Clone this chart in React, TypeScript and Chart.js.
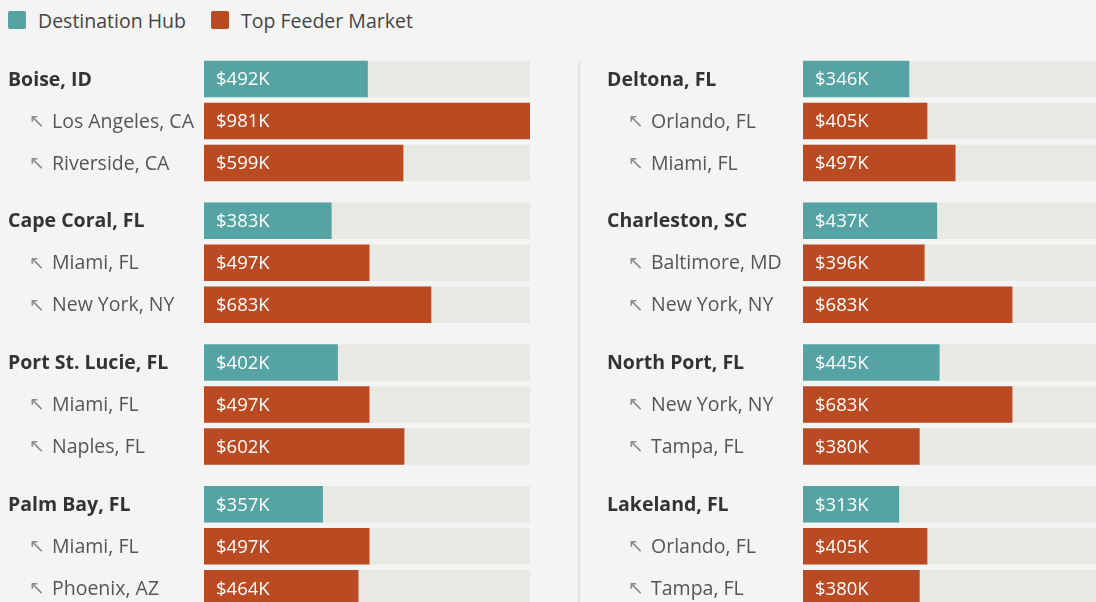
import React, { useEffect, useRef } from "react";
import { Chart, registerables } from "chart.js";
Chart.register(...registerables);

const leftHubs = ["Boise, ID", "Cape Coral, FL", "Port St. Lucie, FL", "Palm Bay, FL"];
const leftHubValues = [492, 383, 402, 357];
const leftFeeders = [
  ["Los Angeles, CA", "Riverside, CA"],
  ["Miami, FL", "New York, NY"],
  ["Miami, FL", "Naples, FL"],
  ["Miami, FL", "Phoenix, AZ"],
];
const leftFeederValues = [
  [981, 599],
  [497, 683],
  [497, 602],
  [497, 464],
];

const rightHubs = ["Deltona, FL", "Charleston, SC", "North Port, FL", "Lakeland, FL"];
const rightHubValues = [346, 437, 445, 313];
const rightFeeders = [
  ["Orlando, FL", "Miami, FL"],
  ["Baltimore, MD", "New York, NY"],
  ["New York, NY", "Tampa, FL"],
  ["Orlando, FL", "Tampa, FL"],
];
const rightFeederValues = [
  [405, 497],
  [396, 683],
  [683, 380],
  [405, 380],
];

const legendLabels = ["Destination Hub", "Top Feeder Market"];

const TEAL = "#56A3A4";
const ORANGE = "#BA4A22";
const TRACK = "#E9E9E4";
const BG = "#F4F4F4";
const FONT = "'Open Sans', 'Noto Sans', sans-serif";

const GROUP_STEP = 3.375;
const ROW_PX = 42;
const TOP = 58;
const HEIGHT = 602;
const Y_MIN = -0.5;
const Y_MAX = Y_MIN + (HEIGHT - TOP) / ROW_PX;

type Row = { label: string; value: number; hub: boolean; pos: number };

function buildRows(hubs: string[], hubValues: number[], feeders: string[][], feederValues: number[][]): Row[] {
  const rows: Row[] = [];
  hubs.forEach((h, g) => {
    rows.push({ label: h, value: hubValues[g], hub: true, pos: g * GROUP_STEP });
    feeders[g].forEach((f, i) =>
      rows.push({ label: f, value: feederValues[g][i], hub: false, pos: g * GROUP_STEP + i + 1 })
    );
  });
  return rows;
}

function Panel({ rows, max, width, padRight, left }: { rows: Row[]; max: number; width: number; padRight: number; left: number }) {
  const ref = useRef<HTMLCanvasElement>(null);
  useEffect(() => {
    if (!ref.current) return;
    const labelPlugin = {
      id: "rowLabels",
      afterDraw(chart: any) {
        const ctx = chart.ctx;
        const ys = chart.scales.y;
        const area = chart.chartArea;
        ctx.save();
        ctx.textBaseline = "middle";
        ctx.textAlign = "left";
        rows.forEach((r) => {
          const y = ys.getPixelForValue(r.pos);
          if (r.hub) {
            ctx.font = `bold 19.5px ${FONT}`;
            ctx.fillStyle = "#333333";
            ctx.fillText(r.label, 8, y + 1);
          } else {
            ctx.font = `19px 'DejaVu Sans', sans-serif`;
            ctx.fillStyle = "#8c8c8c";
            ctx.fillText("\u2196", 29, y + 1);
            ctx.font = `19.5px ${FONT}`;
            ctx.fillStyle = "#555555";
            ctx.fillText(r.label, 52, y + 1);
          }
          ctx.font = `18.5px ${FONT}`;
          ctx.fillStyle = "#ffffff";
          ctx.fillText(`$${r.value}K`, area.left + 12, y + 1);
        });
        ctx.restore();
      },
    };
    const chart = new Chart(ref.current, {
      type: "bar",
      data: {
        datasets: [
          {
            data: rows.map((r) => ({ x: r.value, y: r.pos })),
            backgroundColor: rows.map((r) => (r.hub ? TEAL : ORANGE)),
            barThickness: 36,
            grouped: false,
            order: 0,
          } as any,
          {
            data: rows.map((r) => ({ x: max, y: r.pos })),
            backgroundColor: TRACK,
            barThickness: 36,
            grouped: false,
            order: 1,
          } as any,
        ],
      },
      options: {
        indexAxis: "y",
        animation: false,
        responsive: false,
        devicePixelRatio: 1,
        layout: { padding: { left: 204, right: padRight, top: TOP, bottom: 0 } },
        scales: {
          x: { type: "linear", min: 0, max, display: false, offset: false },
          y: { type: "linear", min: Y_MIN, max: Y_MAX, reverse: true, display: false, offset: false, grid: { offset: false } },
        },
        plugins: { legend: { display: false }, tooltip: { enabled: false } },
      } as any,
      plugins: [labelPlugin],
    });
    return () => chart.destroy();
  }, []);
  return (
    <canvas
      ref={ref}
      width={width}
      height={HEIGHT}
      style={{ position: "absolute", left, top: 0, width, height: HEIGHT }}
    />
  );
}

export default function App() {
  useEffect(() => {
    document.body.style.margin = "0";
    document.body.style.background = BG;
  }, []);
  const leftRows = buildRows(leftHubs, leftHubValues, leftFeeders, leftFeederValues);
  const rightRows = buildRows(rightHubs, rightHubValues, rightFeeders, rightFeederValues);
  const legendColors = [TEAL, ORANGE];
  const legendX = [8, 211];
  return (
    <div style={{ position: "fixed", left: 0, top: 0, width: 1096, height: HEIGHT, background: BG, overflow: "hidden", fontFamily: FONT }}>
      {legendLabels.map((l, i) => (
        <div key={l} style={{ position: "absolute", left: legendX[i], top: 6, height: 28, display: "flex", alignItems: "center" }}>
          <div style={{ width: 18, height: 18, borderRadius: 2, background: legendColors[i], marginRight: 12 }} />
          <span style={{ fontSize: 19.5, color: "#444444" }}>{l}</span>
        </div>
      ))}
      <div style={{ position: "absolute", left: 578, top: 62, width: 2, height: HEIGHT - 62, background: "#E3E3E3" }} />
      <Panel rows={leftRows} max={981} width={560} padRight={30} left={0} />
      <Panel rows={rightRows} max={957} width={497} padRight={0} left={599} />
    </div>
  );
}
